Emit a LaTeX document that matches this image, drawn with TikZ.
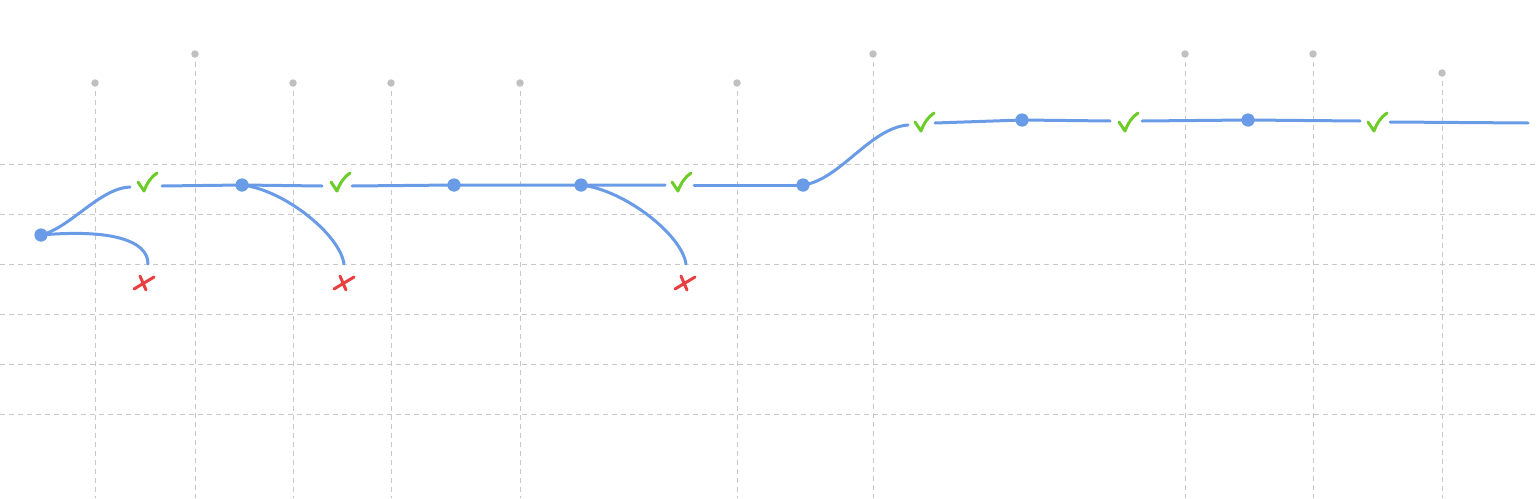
\documentclass[tikz,border=0pt]{standalone}
\begin{document}
\begin{tikzpicture}[x=1pt,y=-1pt,
  grid/.style={draw=gridc, line width=1pt, dash pattern=on 5pt off 4pt},
  tick/.style={circle, fill=dotc, inner sep=0pt, minimum size=7.5pt},
  dotnode/.style={circle, fill=bluec, inner sep=0pt, minimum size=13pt},
  link/.style={draw=bluec, line width=3pt, line cap=round},
  checkmark/.pic={\draw[draw=greenc, line width=3pt, line cap=round, line join=round] (-9,0) .. controls (-6,4) .. (-3,9) .. controls (0,1) and (4,-5) .. (10,-9);},
  crossmark/.pic={\draw[draw=redc, line width=3pt, line cap=round] (-10,6) -- (10,-6) (-4,-7) -- (2,7);}
]
\definecolor{gridc}{RGB}{200,200,200}
\definecolor{dotc}{RGB}{192,192,192}
\definecolor{bluec}{RGB}{106,155,230}
\definecolor{greenc}{RGB}{108,204,42}
\definecolor{redc}{RGB}{232,64,64}
\useasboundingbox (0,0) rectangle (1539,498);
% horizontal grid
\foreach \y in {164,214,264,314,364,414} \draw[grid] (0,\y) -- (1539,\y);
% vertical grid with top dots
\foreach \x/\t [count=\i] in {95/83,195/54,293/83,391/83,520/83,737/83,873/54,1185/54,1313/54,1442/73} {
  \node[tick] (t\i) at (\x,\t) {};
  \coordinate (b\i) at (\x,498);
  \draw[grid] ([yshift=-8pt]t\i.center) -- (b\i);
}
% blue nodes
\node[dotnode] (n1) at (41,235) {};
\node[dotnode] (n2) at (242,185) {};
\node[dotnode] (n3) at (454,185) {};
\node[dotnode] (n4) at (581,185) {};
\node[dotnode] (n5) at (803,185) {};
\node[dotnode] (n6) at (1022,120) {};
\node[dotnode] (n7) at (1248,120) {};
% gap coordinates
\coordinate (e1) at (130,187);
\coordinate (s1) at (162,186);
\coordinate (e2) at (322,186);
\coordinate (s2) at (352,186);
\coordinate (e3) at (665,185);
\coordinate (s3) at (694,185);
\coordinate (e4) at (908,125);
\coordinate (s4) at (935,123);
\coordinate (e5) at (1110,121);
\coordinate (s5) at (1142,121);
\coordinate (e6) at (1360,121);
\coordinate (s6) at (1390,122);
\coordinate (e7) at (1528,123);
\coordinate (f1) at (148,264);
\coordinate (f2) at (344,264);
\coordinate (f3) at (686,264);
% links
\draw[link] (n1.center) .. controls (70,228) and (100,188) .. (e1);
\draw[link] (n1.center) .. controls (110,229) and (148,240) .. (f1);
\draw[link] (s1) -- (n2.center) -- (e2);
\draw[link] (n2.center) .. controls (285,190) and (340,235) .. (f2);
\draw[link] (s2) -- (n3.center) -- (n4.center) -- (e3);
\draw[link] (n4.center) .. controls (625,190) and (682,235) .. (f3);
\draw[link] (s3) -- (n5.center);
\draw[link] (n5.center) .. controls (840,180) and (870,128) .. (e4);
\draw[link] (s4) -- (n6.center) -- (e5);
\draw[link] (s5) -- (n7.center) -- (e6);
\draw[link] (s6) -- (e7);
% redraw nodes on top
\foreach \n in {n1,n2,n3,n4,n5,n6,n7} \fill[bluec] (\n) circle (6.5pt);
% marks
\pic at (147,182) {checkmark};
\pic at (340,182) {checkmark};
\pic at (681,182) {checkmark};
\pic at (924,122) {checkmark};
\pic at (1128,122) {checkmark};
\pic at (1377,122) {checkmark};
\pic at (144,283) {crossmark};
\pic at (344,283) {crossmark};
\pic at (685,283) {crossmark};
\end{tikzpicture}
\end{document}
